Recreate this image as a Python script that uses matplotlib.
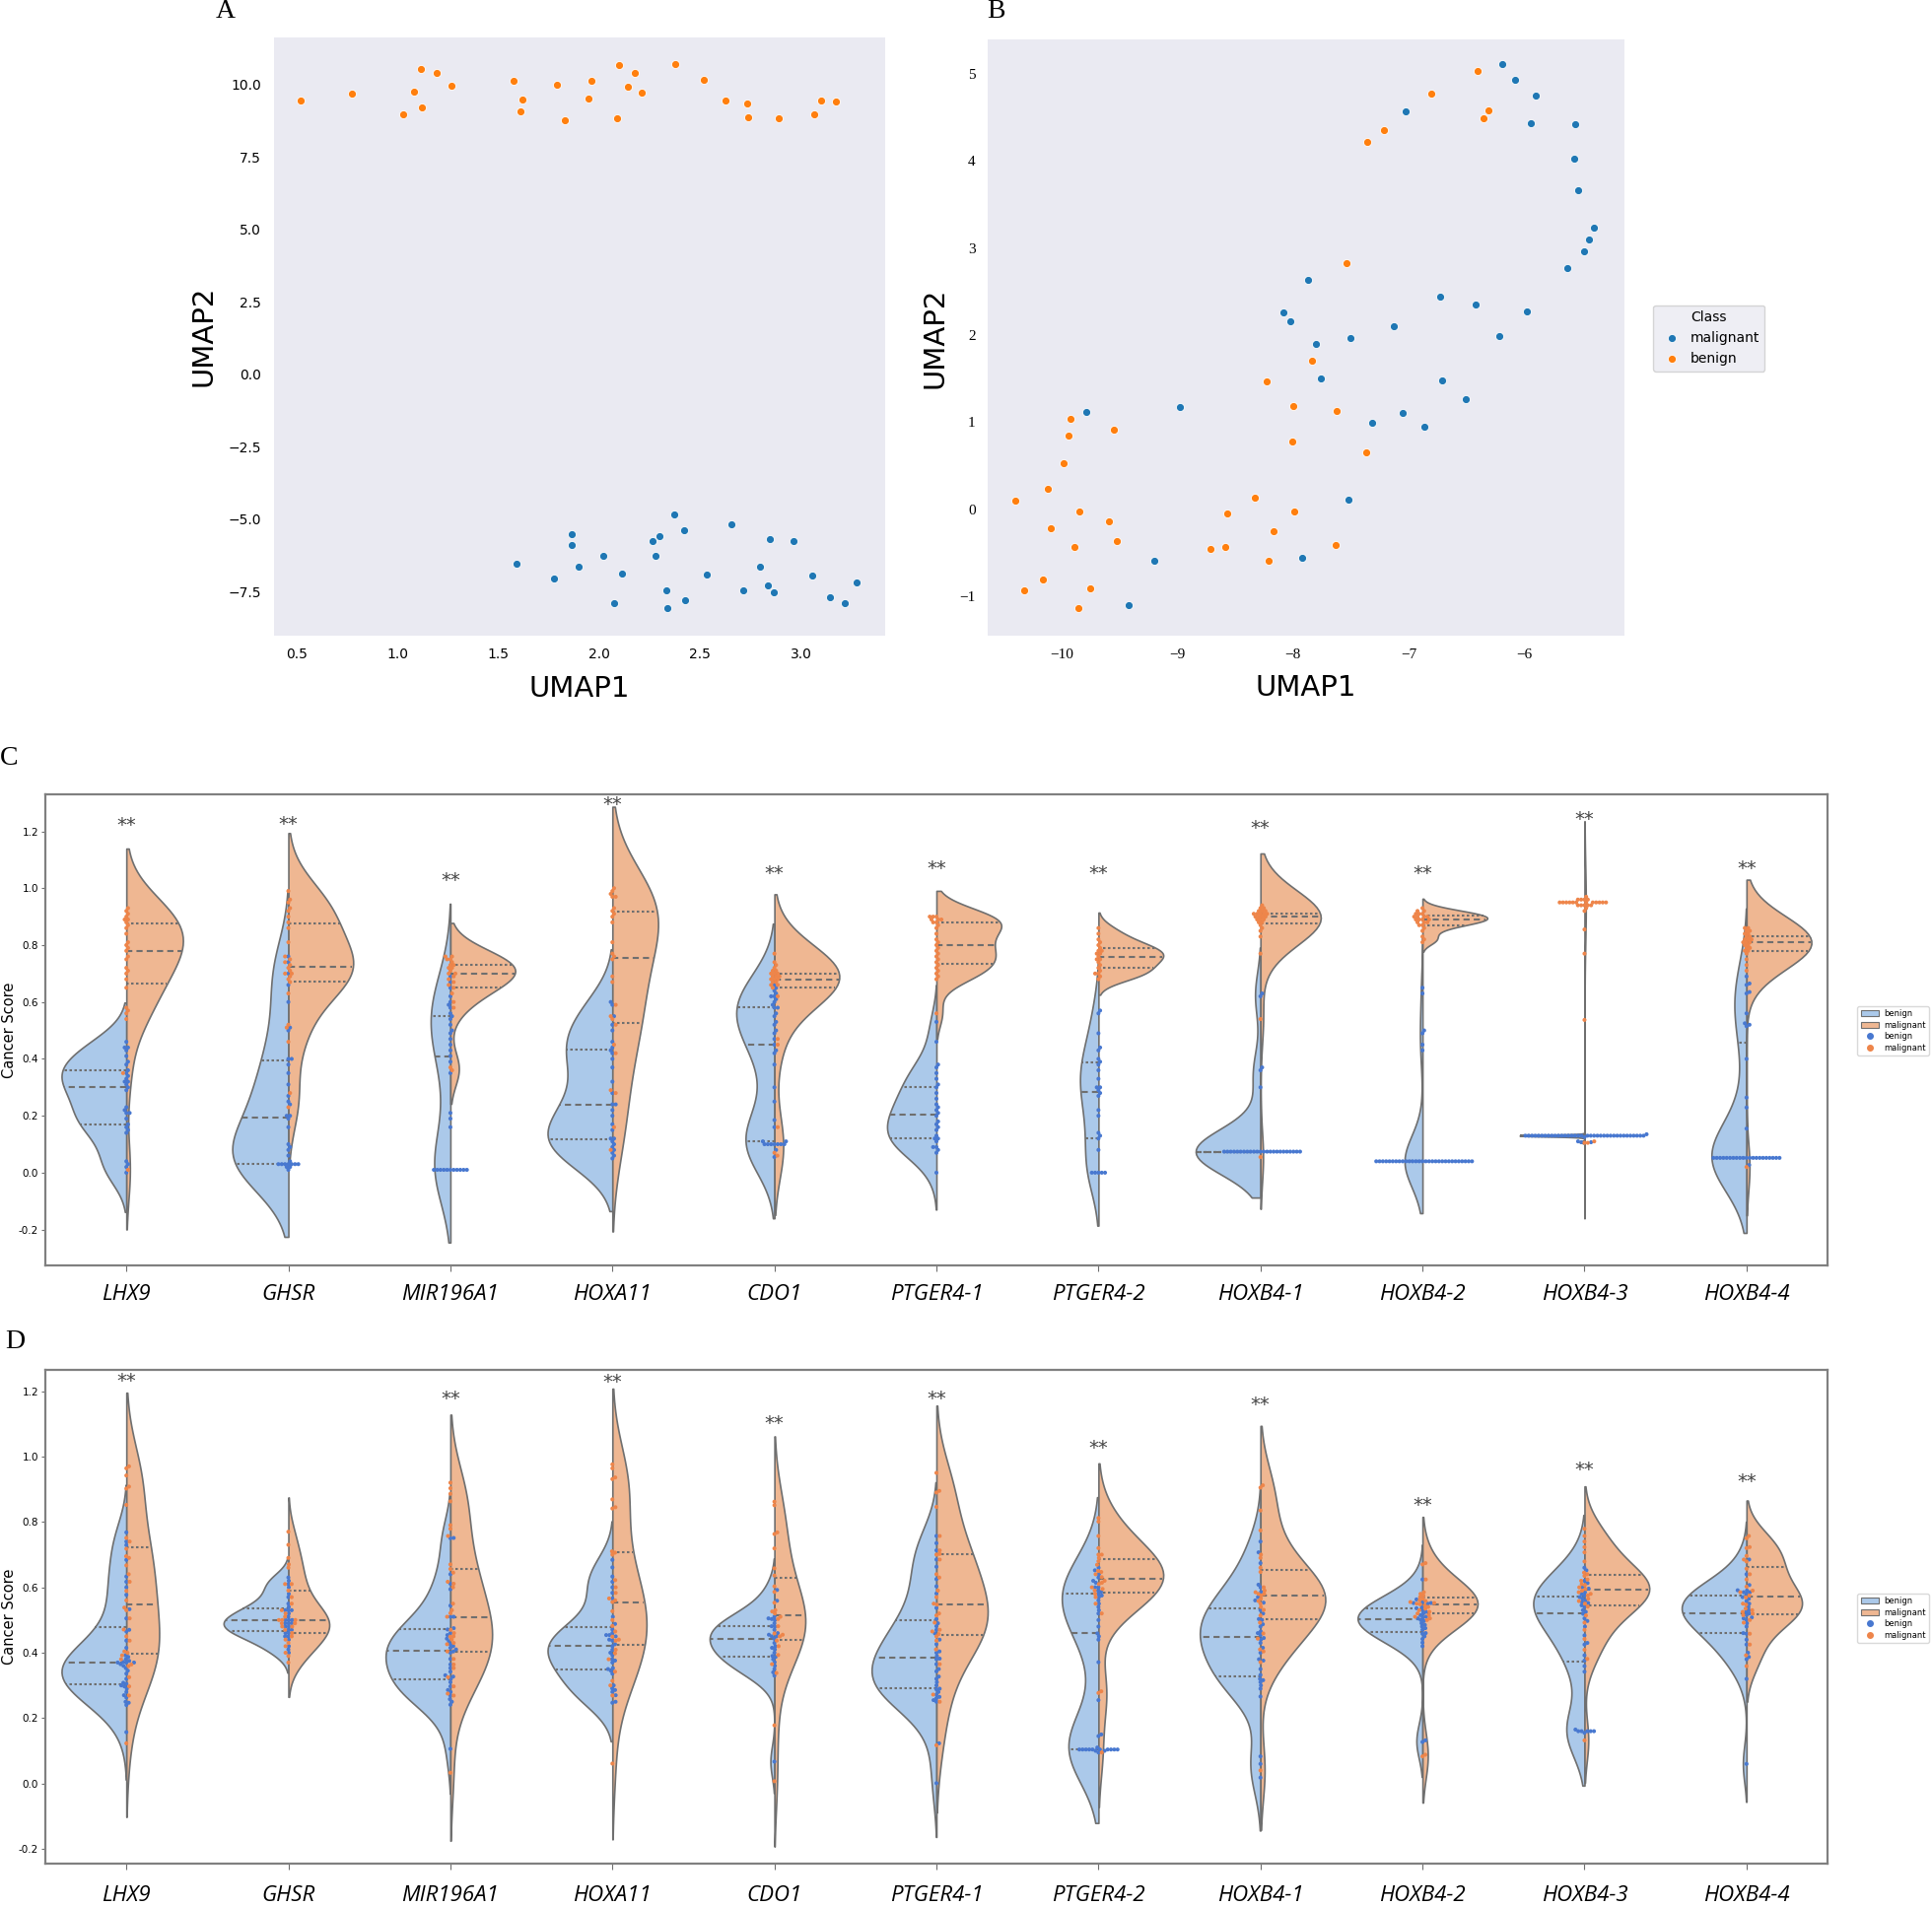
import colorsys
import numpy as np
import matplotlib
matplotlib.use("Agg")
import matplotlib.pyplot as plt
from matplotlib.patches import Patch
from matplotlib.lines import Line2D

# ---------------------------------------------------------------
# Panel A / B : UMAP embeddings
# ---------------------------------------------------------------
A_BEN_X = [0.518, 0.773, 1.030, 1.080, 1.115, 1.122, 1.196, 1.268, 1.574, 1.619, 1.608, 1.789, 1.829,
           1.948, 1.959, 2.089, 2.100, 2.140, 2.174, 2.212, 2.375, 2.516, 2.624, 2.734, 2.736, 2.890,
           3.065, 3.098, 3.172]
A_BEN_Y = [9.47, 9.69, 8.97, 9.75, 10.56, 9.23, 10.41, 9.97, 10.13, 9.50, 9.09, 10.00, 8.78,
           9.53, 10.14, 8.84, 10.69, 9.92, 10.41, 9.72, 10.72, 10.17, 9.47, 9.36, 8.89, 8.83,
           8.97, 9.47, 9.41]
A_MAL_X = [1.590, 1.776, 1.863, 1.863, 1.897, 2.020, 2.073, 2.114, 2.264, 2.279, 2.297, 2.331, 2.335,
           2.373, 2.420, 2.425, 2.534, 2.655, 2.716, 2.798, 2.834, 2.846, 2.866, 2.964, 3.058, 3.145,
           3.217, 3.275]
A_MAL_Y = [-6.53, -7.06, -5.53, -5.89, -6.66, -6.27, -7.92, -6.88, -5.75, -6.27, -5.59, -7.48, -8.09,
           -4.84, -5.39, -7.81, -6.92, -5.17, -7.45, -6.64, -7.31, -5.69, -7.53, -5.75, -6.94, -7.69,
           -7.91, -7.19]

B_BEN_X = [-10.407, -10.325, -10.167, -10.124, -10.096, -9.990, -9.947, -9.928, -9.895, -9.861, -9.847,
           -9.761, -9.593, -9.555, -9.526, -8.718, -8.584, -8.569, -8.335, -8.230, -8.211, -8.172,
           -8.010, -8.000, -7.986, -7.837, -7.632, -7.622, -7.536, -7.368, -7.359, -7.215, -6.799,
           -6.397, -6.354, -6.306]
B_BEN_Y = [0.101, -0.928, -0.803, 0.231, -0.216, 0.533, 0.845, 1.032, -0.429, -1.141, -0.029,
           -0.907, -0.143, 0.913, -0.361, -0.455, -0.439, -0.049, 0.127, 1.469, -0.590, -0.252,
           0.772, 1.188, -0.023, 1.703, -0.413, 1.131, 2.821, 0.647, 4.215, 4.350, 4.776,
           5.036, 4.485, 4.579]
B_MAL_X = [-9.794, -9.421, -9.201, -8.981, -8.086, -8.024, -7.919, -7.866, -7.799, -7.761, -7.517,
           -7.502, -7.316, -7.124, -7.048, -7.024, -6.861, -6.727, -6.708, -6.502, -6.416, -6.215,
           -6.187, -6.077, -5.971, -5.938, -5.900, -5.627, -5.565, -5.560, -5.531, -5.483, -5.440,
           -5.392]
B_MAL_Y = [1.115, -1.100, -0.590, 1.173, 2.265, 2.155, -0.559, 2.634, 1.901, 1.500, 0.107,
           1.968, 0.991, 2.103, 1.110, 4.568, 0.944, 2.442, 1.474, 1.261, 2.353, 1.994,
           5.109, 4.927, 2.270, 4.433, 4.756, 2.764, 4.028, 4.428, 3.669, 2.962, 3.102,
           3.237]

# ---------------------------------------------------------------
# Panel C / D : cancer scores per gene (benign / malignant)
# ---------------------------------------------------------------
GENES = ["LHX9", "GHSR", "MIR196A1", "HOXA11", "CDO1", "PTGER4-1", "PTGER4-2",
         "HOXB4-1", "HOXB4-2", "HOXB4-3", "HOXB4-4"]

C_LHX9_BEN = [0.00, 0.02, 0.03, 0.04, 0.14, 0.15, 0.16, 0.17, 0.19, 0.21, 0.21, 0.22, 0.23, 0.29, 0.30,
              0.31, 0.32, 0.32, 0.33, 0.34, 0.35, 0.36, 0.38, 0.39, 0.41, 0.43, 0.44, 0.44, 0.46]
C_LHX9_MAL = [0.01, 0.35, 0.54, 0.56, 0.57, 0.58, 0.65, 0.68, 0.70, 0.71, 0.72, 0.75, 0.76, 0.78, 0.79,
              0.80, 0.81, 0.84, 0.86, 0.87, 0.88, 0.89, 0.89, 0.90, 0.91, 0.92, 0.93]
C_GHSR_BEN = [0.01, 0.02, 0.02, 0.03, 0.03, 0.03, 0.03, 0.03, 0.03, 0.03, 0.04, 0.06, 0.08, 0.09, 0.10,
              0.16, 0.19, 0.20, 0.20, 0.24, 0.25, 0.27, 0.31, 0.35, 0.38, 0.40, 0.40, 0.50, 0.51, 0.60,
              0.66, 0.70, 0.74, 0.76]
C_GHSR_MAL = [0.23, 0.28, 0.46, 0.51, 0.52, 0.63, 0.67, 0.68, 0.69, 0.70, 0.70, 0.71, 0.72, 0.73, 0.74,
              0.75, 0.76, 0.81, 0.86, 0.88, 0.90, 0.92, 0.93, 0.95, 0.96, 0.99]
C_MIR_BEN = [0.01] * 11 + [0.16, 0.19, 0.21, 0.35, 0.39, 0.41, 0.43, 0.45, 0.47, 0.49, 0.50, 0.52, 0.54,
                           0.55, 0.56, 0.58, 0.59, 0.60, 0.62, 0.65, 0.67, 0.69]
C_MIR_MAL = [0.36, 0.37, 0.58, 0.60, 0.63, 0.65, 0.66, 0.67, 0.68, 0.69, 0.70, 0.70, 0.71, 0.72, 0.72,
             0.73, 0.73, 0.74, 0.75, 0.75, 0.76, 0.76]
C_HOXA11_BEN = [0.05, 0.06, 0.07, 0.08, 0.09, 0.10, 0.11, 0.12, 0.12, 0.15, 0.17, 0.20, 0.22, 0.24, 0.24,
                0.28, 0.32, 0.37, 0.40, 0.42, 0.43, 0.44, 0.46, 0.50, 0.52, 0.55, 0.59, 0.60]
C_HOXA11_MAL = [0.08, 0.16, 0.28, 0.29, 0.42, 0.45, 0.52, 0.54, 0.55, 0.59, 0.67, 0.69, 0.75, 0.76, 0.77,
                0.81, 0.88, 0.90, 0.91, 0.92, 0.93, 0.97, 0.97, 0.98, 0.99, 1.00]
C_CDO1_BEN = [0.055, 0.08, 0.10, 0.10, 0.10, 0.10, 0.10, 0.10, 0.10, 0.11, 0.11, 0.16, 0.185, 0.25, 0.30,
              0.38, 0.42, 0.43, 0.45, 0.47, 0.49, 0.50, 0.52, 0.53, 0.55, 0.56, 0.58, 0.58, 0.59, 0.60,
              0.61, 0.62, 0.62, 0.63, 0.64, 0.65, 0.66]
C_CDO1_MAL = [0.06, 0.07, 0.16, 0.45, 0.47, 0.62, 0.65, 0.66, 0.66, 0.67, 0.67, 0.68, 0.68, 0.68, 0.69,
              0.69, 0.69, 0.70, 0.70, 0.70, 0.71, 0.71, 0.72, 0.73, 0.74, 0.77]
C_PT1_BEN = [0.00, 0.07, 0.08, 0.09, 0.09, 0.11, 0.12, 0.12, 0.13, 0.15, 0.16, 0.17, 0.18, 0.20, 0.21,
             0.22, 0.23, 0.24, 0.26, 0.28, 0.30, 0.31, 0.33, 0.35, 0.37, 0.38, 0.46, 0.53]
C_PT1_MAL = [0.56, 0.68, 0.69, 0.70, 0.71, 0.72, 0.73, 0.74, 0.75, 0.76, 0.77, 0.78, 0.79, 0.80, 0.81,
             0.82, 0.84, 0.86, 0.87, 0.88, 0.88, 0.89, 0.89, 0.89, 0.90, 0.90, 0.90]
C_PT2_BEN = [0.0] * 5 + [0.08, 0.12, 0.13, 0.14, 0.20, 0.22, 0.27, 0.28, 0.29, 0.30, 0.30, 0.33, 0.36,
                         0.38, 0.39, 0.40, 0.43, 0.44, 0.49, 0.56, 0.57]
C_PT2_MAL = [0.68, 0.69, 0.70, 0.70, 0.71, 0.72, 0.73, 0.74, 0.75, 0.75, 0.76, 0.77, 0.77, 0.78, 0.78,
             0.79, 0.80, 0.81, 0.82, 0.84, 0.86]
C_B41_BEN = [0.074] * 24 + [0.30, 0.36, 0.37, 0.62, 0.63]
C_B41_MAL = [0.055, 0.54, 0.77, 0.83, 0.85, 0.86, 0.87, 0.88, 0.88, 0.89, 0.89, 0.89, 0.90, 0.90, 0.90,
             0.90, 0.91, 0.91, 0.91, 0.91, 0.91, 0.92, 0.92, 0.92, 0.93, 0.93, 0.94]
C_B42_BEN = [0.04] * 30 + [0.43, 0.45, 0.49, 0.50, 0.63, 0.65]
C_B42_MAL = [0.81, 0.82, 0.83, 0.85, 0.86, 0.87, 0.87, 0.88, 0.88, 0.88, 0.89, 0.89, 0.89, 0.89, 0.90,
             0.90, 0.90, 0.90, 0.91, 0.91, 0.91, 0.92, 0.92, 0.93]
C_B43_BEN = [0.107, 0.107, 0.11, 0.125] + [0.13] * 36 + [0.135]
C_B43_MAL = [0.105, 0.105, 0.11, 0.537, 0.77, 0.855, 0.92, 0.93, 0.94, 0.94, 0.94, 0.94, 0.94] + \
            [0.95] * 12 + [0.96, 0.96, 0.96, 0.96, 0.97]
C_B44_BEN = [0.027] + [0.052] * 21 + [0.155, 0.229, 0.264, 0.40, 0.515, 0.52, 0.525, 0.56, 0.63, 0.635,
                                      0.66, 0.665, 0.69]
C_B44_MAL = [0.02, 0.71, 0.73, 0.75, 0.77, 0.78, 0.78, 0.79, 0.79, 0.80, 0.80, 0.81, 0.81, 0.81, 0.82,
             0.82, 0.82, 0.83, 0.83, 0.84, 0.84, 0.85, 0.85, 0.86, 0.86]

D_LHX9_BEN = [0.157, 0.24, 0.247, 0.25, 0.263, 0.27, 0.28, 0.29, 0.297, 0.30, 0.305, 0.308, 0.32, 0.336,
              0.345, 0.353, 0.36, 0.365, 0.37, 0.37, 0.37, 0.372, 0.375, 0.38, 0.387, 0.392, 0.415, 0.437,
              0.465, 0.47, 0.505, 0.533, 0.577, 0.60, 0.617, 0.633, 0.684, 0.729, 0.74, 0.768]
D_LHX9_MAL = [0.123, 0.269, 0.297, 0.325, 0.359, 0.364, 0.38, 0.392, 0.40, 0.404, 0.437, 0.45, 0.471,
              0.505, 0.53, 0.538, 0.56, 0.589, 0.617, 0.64, 0.667, 0.69, 0.695, 0.718, 0.74, 0.751, 0.852,
              0.902, 0.908, 0.942, 0.964, 0.97]
D_GHSR_BEN = [0.40, 0.41, 0.42, 0.44, 0.45, 0.45, 0.46, 0.46, 0.47, 0.47, 0.48, 0.48, 0.49, 0.49, 0.49,
              0.50, 0.50, 0.50, 0.51, 0.52, 0.53, 0.53, 0.53, 0.54, 0.55, 0.57, 0.58, 0.60, 0.61, 0.62,
              0.63]
D_GHSR_MAL = [0.37, 0.39, 0.40, 0.42, 0.43, 0.44, 0.45, 0.46, 0.47, 0.48, 0.48, 0.49, 0.49, 0.50, 0.50,
              0.50, 0.51, 0.52, 0.53, 0.55, 0.57, 0.59, 0.61, 0.61, 0.66, 0.67, 0.69, 0.73, 0.77]
D_MIR_BEN = [0.106, 0.241, 0.25, 0.258, 0.269, 0.28, 0.286, 0.297, 0.31, 0.32, 0.327, 0.331, 0.342, 0.353,
             0.364, 0.381, 0.40, 0.404, 0.41, 0.415, 0.42, 0.426, 0.435, 0.443, 0.454, 0.46, 0.471, 0.475,
             0.51, 0.51, 0.544, 0.594, 0.611, 0.64, 0.75, 0.751]
D_MIR_MAL = [0.033, 0.269, 0.275, 0.297, 0.325, 0.353, 0.364, 0.381, 0.404, 0.426, 0.43, 0.44, 0.449, 0.45,
             0.46, 0.47, 0.51, 0.521, 0.53, 0.55, 0.60, 0.611, 0.617, 0.645, 0.656, 0.67, 0.757, 0.779,
             0.79, 0.863, 0.886, 0.903, 0.92]
D_HOXA11_BEN = [0.247, 0.25, 0.27, 0.28, 0.286, 0.291, 0.30, 0.336, 0.345, 0.35, 0.353, 0.37, 0.376, 0.38,
                0.392, 0.40, 0.409, 0.42, 0.426, 0.437, 0.44, 0.45, 0.454, 0.454, 0.46, 0.471, 0.488, 0.51,
                0.566, 0.583, 0.60, 0.617, 0.633, 0.661, 0.684]
D_HOXA11_MAL = [0.061, 0.269, 0.30, 0.314, 0.342, 0.38, 0.398, 0.409, 0.437, 0.44, 0.449, 0.465, 0.482,
                0.50, 0.527, 0.555, 0.56, 0.566, 0.583, 0.60, 0.622, 0.70, 0.706, 0.71, 0.841, 0.845,
                0.869, 0.931, 0.936, 0.964, 0.976]
D_CDO1_BEN = [0.067, 0.33, 0.34, 0.35, 0.36, 0.371, 0.38, 0.387, 0.39, 0.40, 0.41, 0.415, 0.42, 0.43,
              0.443, 0.45, 0.45, 0.455, 0.46, 0.47, 0.48, 0.481, 0.49, 0.50, 0.503, 0.505, 0.51, 0.559,
              0.592]
D_CDO1_MAL = [0.007, 0.178, 0.338, 0.365, 0.393, 0.42, 0.437, 0.45, 0.455, 0.459, 0.481, 0.503, 0.51,
              0.52, 0.526, 0.53, 0.553, 0.586, 0.603, 0.636, 0.658, 0.719, 0.763, 0.768, 0.851, 0.862]
D_PT1_BEN = [0.001, 0.123, 0.25, 0.255, 0.261, 0.265, 0.272, 0.28, 0.288, 0.29, 0.30, 0.31, 0.32, 0.327,
             0.343, 0.35, 0.365, 0.38, 0.382, 0.39, 0.40, 0.404, 0.426, 0.44, 0.459, 0.47, 0.481, 0.49,
             0.503, 0.537, 0.581, 0.603, 0.625, 0.663, 0.685, 0.713, 0.735, 0.757]
D_PT1_MAL = [0.117, 0.25, 0.272, 0.365, 0.41, 0.437, 0.45, 0.457, 0.465, 0.47, 0.492, 0.514, 0.52, 0.547,
             0.55, 0.57, 0.59, 0.63, 0.64, 0.685, 0.70, 0.702, 0.713, 0.757, 0.846, 0.89, 0.895, 0.95]
D_PT2_BEN = [0.095, 0.10, 0.10] + [0.104] * 10 + [0.11, 0.145, 0.15, 0.255, 0.371, 0.44, 0.45, 0.459, 0.48,
                                                  0.50, 0.52, 0.53, 0.54, 0.55, 0.56, 0.57, 0.575, 0.58,
                                                  0.586, 0.59, 0.60, 0.60, 0.614, 0.62, 0.63, 0.64, 0.652,
                                                  0.66]
D_PT2_MAL = [0.095, 0.277, 0.282, 0.52, 0.55, 0.57, 0.58, 0.59, 0.595, 0.60, 0.61, 0.614, 0.62, 0.631,
             0.64, 0.647, 0.65, 0.669, 0.68, 0.69, 0.70, 0.70, 0.72, 0.757, 0.801, 0.812]
D_B41_BEN = [0.018, 0.06, 0.083, 0.266, 0.29, 0.30, 0.31, 0.316, 0.32, 0.332, 0.35, 0.376, 0.38, 0.40,
             0.415, 0.43, 0.44, 0.445, 0.454, 0.46, 0.465, 0.48, 0.487, 0.50, 0.503, 0.52, 0.53, 0.553,
             0.56, 0.57, 0.586, 0.60, 0.608, 0.674, 0.707, 0.74]
D_B41_MAL = [0.04, 0.371, 0.404, 0.41, 0.443, 0.459, 0.492, 0.514, 0.531, 0.54, 0.55, 0.558, 0.565, 0.575,
             0.58, 0.58, 0.585, 0.59, 0.60, 0.647, 0.66, 0.69, 0.70, 0.774, 0.835, 0.905, 0.912]
D_B42_BEN = [0.127, 0.132, 0.42, 0.431, 0.442, 0.45, 0.458, 0.46, 0.47, 0.475, 0.48, 0.485, 0.49, 0.497,
             0.50, 0.505, 0.508, 0.51, 0.515, 0.52, 0.525, 0.53, 0.536, 0.54, 0.55, 0.552, 0.552, 0.555,
             0.563, 0.624]
D_B42_MAL = [0.083, 0.088, 0.50, 0.505, 0.51, 0.515, 0.52, 0.525, 0.53, 0.535, 0.54, 0.545, 0.548, 0.55,
             0.552, 0.555, 0.558, 0.56, 0.565, 0.57, 0.575, 0.58, 0.585, 0.624, 0.67, 0.674]
D_B43_BEN = [0.155, 0.16, 0.16, 0.16, 0.16, 0.16, 0.165, 0.342, 0.359, 0.376, 0.392, 0.425, 0.43, 0.453,
             0.48, 0.497, 0.505, 0.519, 0.525, 0.53, 0.54, 0.545, 0.552, 0.555, 0.56, 0.565, 0.57, 0.575,
             0.58, 0.585, 0.596, 0.60, 0.613, 0.62, 0.652, 0.66]
D_B43_MAL = [0.132, 0.381, 0.409, 0.442, 0.47, 0.492, 0.514, 0.541, 0.55, 0.558, 0.565, 0.575, 0.58, 0.585,
             0.59, 0.595, 0.60, 0.607, 0.61, 0.62, 0.624, 0.635, 0.64, 0.645, 0.679, 0.707, 0.723, 0.74,
             0.757, 0.779]
D_B44_BEN = [0.06, 0.32, 0.38, 0.387, 0.40, 0.425, 0.44, 0.458, 0.46, 0.48, 0.49, 0.50, 0.505, 0.508,
             0.515, 0.52, 0.525, 0.53, 0.54, 0.55, 0.558, 0.565, 0.57, 0.58, 0.585, 0.585, 0.59, 0.591,
             0.607, 0.64, 0.685]
D_B44_MAL = [0.359, 0.392, 0.425, 0.458, 0.492, 0.50, 0.515, 0.52, 0.525, 0.53, 0.535, 0.547, 0.55, 0.569,
             0.575, 0.585, 0.59, 0.602, 0.624, 0.64, 0.657, 0.679, 0.685, 0.696, 0.72, 0.723, 0.75, 0.757]

C_BEN = [C_LHX9_BEN, C_GHSR_BEN, C_MIR_BEN, C_HOXA11_BEN, C_CDO1_BEN, C_PT1_BEN, C_PT2_BEN,
         C_B41_BEN, C_B42_BEN, C_B43_BEN, C_B44_BEN]
C_MAL = [C_LHX9_MAL, C_GHSR_MAL, C_MIR_MAL, C_HOXA11_MAL, C_CDO1_MAL, C_PT1_MAL, C_PT2_MAL,
         C_B41_MAL, C_B42_MAL, C_B43_MAL, C_B44_MAL]
D_BEN = [D_LHX9_BEN, D_GHSR_BEN, D_MIR_BEN, D_HOXA11_BEN, D_CDO1_BEN, D_PT1_BEN, D_PT2_BEN,
         D_B41_BEN, D_B42_BEN, D_B43_BEN, D_B44_BEN]
D_MAL = [D_LHX9_MAL, D_GHSR_MAL, D_MIR_MAL, D_HOXA11_MAL, D_CDO1_MAL, D_PT1_MAL, D_PT2_MAL,
         D_B41_MAL, D_B42_MAL, D_B43_MAL, D_B44_MAL]

# significance marks (None = no mark)
C_STAR_Y = [1.22, 1.225, 1.027, 1.295, 1.05, 1.07, 1.05, 1.21, 1.05, 1.24, 1.07]
D_STAR_Y = [1.23, None, 1.177, 1.226, 1.10, 1.177, 1.026, 1.158, 0.852, 0.96, 0.924]

# Colours
TAB_BLUE, TAB_ORANGE = "#1f77b4", "#ff7f0e"
DOT_BEN, DOT_MAL = "#4878d0", "#ee854a"
GRAY = "#6f6f6f"


def desaturate(hex_color, prop=0.75):
    r, g, b = matplotlib.colors.to_rgb(hex_color)
    h, l, s = colorsys.rgb_to_hls(r, g, b)
    return colorsys.hls_to_rgb(h, l, s * prop)


FILL_BEN = desaturate("#a1c9f4")
FILL_MAL = desaturate("#ffb482")


def kde(vals, n_grid=100, cut=2):
    """Gaussian KDE with Scott's bandwidth, support cut at 2 bw."""
    v = np.asarray(vals, float)
    bw = v.std(ddof=1) * len(v) ** (-0.2)
    grid = np.linspace(v.min() - cut * bw, v.max() + cut * bw, n_grid)
    z = (grid[:, None] - v[None, :]) / bw
    dens = np.exp(-0.5 * z ** 2).sum(axis=1) / (len(v) * bw * np.sqrt(2 * np.pi))
    return grid, dens


def swarm_offsets(vals, px_y, d):
    """Simple beeswarm: returns horizontal offsets (pixels) for the values."""
    y_px = np.asarray(vals, float) * px_y
    order = np.argsort(y_px, kind="stable")
    placed = []
    offs = np.zeros(len(y_px))
    for k in order:
        y = y_px[k]
        near = [(px, py) for px, py in placed if abs(py - y) < d]
        cands = [0.0]
        for px, py in near:
            dx = np.sqrt(d * d - (py - y) ** 2)
            cands += [px + dx, px - dx]
        cands.sort(key=abs)
        chosen = cands[-1]
        for c in cands:
            if all((c - px) ** 2 + (y - py) ** 2 >= d * d - 1e-6 for px, py in near):
                chosen = c
                break
        placed.append((chosen, y))
        offs[k] = chosen
    return offs


def violin_panel(ax, ben_list, mal_list, stars, ylim, xlabel_pad):
    ax.set_xlim(-0.5, len(GENES) - 0.5)
    ax.set_ylim(*ylim)
    bbox = ax.get_window_extent()
    px_x = bbox.width / len(GENES)
    px_y = bbox.height / (ylim[1] - ylim[0])

    for i, (ben, mal) in enumerate(zip(ben_list, mal_list)):
        gb, db = kde(ben)
        gm, dm = kde(mal)
        peak = max(db.max(), dm.max())
        for grid, dens, vals, side, col in ((gb, db, ben, -1, FILL_BEN), (gm, dm, mal, 1, FILL_MAL)):
            w = dens / peak * 0.4
            ax.fill_betweenx(grid, i, i + side * w, facecolor=col, edgecolor=GRAY, linewidth=1.2, zorder=1)
            q25, q50, q75 = np.percentile(vals, [25, 50, 75])
            for q, dash in ((q25, (1.2, 1.2)), (q50, (3.0, 2.0)), (q75, (1.2, 1.2))):
                xe = i + side * 0.4 * np.interp(q, grid, dens) / peak * 0.99
                ax.plot([i, xe], [q, q], color=GRAY, linewidth=1.5, dashes=dash, zorder=2)

        # swarm of both groups together
        vals = list(ben) + list(mal)
        cols = [DOT_BEN] * len(ben) + [DOT_MAL] * len(mal)
        offs = swarm_offsets(vals, px_y, 3.35)
        ax.scatter(i + offs / px_x, vals, c=cols, s=8.5, linewidths=0, zorder=3)

        if stars[i] is not None:
            ax.text(i, stars[i], "**", ha="center", va="center", fontsize=14, color="#444444")

    ax.set_xticks(range(len(GENES)))
    ax.set_xticklabels(GENES, fontsize=16, style="italic", family=["Open Sans", "DejaVu Sans"])
    ax.set_yticks(np.arange(-0.2, 1.21, 0.2))
    ax.set_yticklabels([f"{t:.1f}" for t in np.arange(-0.2, 1.21, 0.2)], fontsize=7.5)
    ax.tick_params(axis="x", length=4, color=GRAY, pad=xlabel_pad)
    ax.tick_params(axis="y", length=3, color=GRAY, pad=2)
    for sp in ax.spines.values():
        sp.set_color("#808080")
        sp.set_linewidth(1.6)
    # the label's anchor is its right edge; keep it inside the figure
    ax.set_ylabel("Cancer Score", fontsize=10.5)
    ax.yaxis.set_label_coords((17 - 46) / 1808, 0.5)


def umap_panel(ax, xlim, ylim, serif_ticks=False):
    ax.set_facecolor("#eaeaf2")
    for sp in ax.spines.values():
        sp.set_visible(False)
    ax.set_xlim(*xlim)
    ax.set_ylim(*ylim)
    kw = dict(length=0, labelsize=10, pad=9)
    if serif_ticks:
        kw["labelfontfamily"] = "Liberation Serif"
        kw["labelsize"] = 11
    ax.tick_params(**kw)
    ax.set_xlabel("UMAP1", fontsize=21, labelpad=10)
    ax.set_ylabel("UMAP2", fontsize=21, labelpad=8)


W, H = 1960, 1934
fig = plt.figure(figsize=(W / 100, H / 100), dpi=100)

# ---- A ----
axA = fig.add_axes([277.5 / W, 1 - 645 / H, 620 / W, 607.5 / H])
axA.scatter(A_BEN_X, A_BEN_Y, s=34, color=TAB_ORANGE, edgecolor="white", linewidth=0.6)
axA.scatter(A_MAL_X, A_MAL_Y, s=34, color=TAB_BLUE, edgecolor="white", linewidth=0.6)
axA.set_xticks([0.5, 1.0, 1.5, 2.0, 2.5, 3.0])
axA.set_yticks([-7.5, -5.0, -2.5, 0.0, 2.5, 5.0, 7.5, 10.0])
umap_panel(axA, (0.385, 3.415), (-9.03, 11.65))

# ---- B ----
axB = fig.add_axes([1002 / W, 1 - 645 / H, 646 / W, 605 / H])
axB.scatter(B_MAL_X, B_MAL_Y, s=34, color=TAB_BLUE, edgecolor="white", linewidth=0.6, label="malignant")
axB.scatter(B_BEN_X, B_BEN_Y, s=34, color=TAB_ORANGE, edgecolor="white", linewidth=0.6, label="benign")
axB.set_xticks([-10, -9, -8, -7, -6])
axB.set_yticks([-1, 0, 1, 2, 3, 4, 5])
umap_panel(axB, (-10.645, -5.129), (-1.453, 5.396), serif_ticks=True)
legB = axB.legend(title="Class", loc="center left", bbox_to_anchor=(1670 / W, 1 - 343 / H),
                  bbox_transform=fig.transFigure, fontsize=10, title_fontsize=10,
                  facecolor="#eaeaf2", edgecolor="#cccccc", handletextpad=0.3, borderpad=0.4)

# ---- C ----
axC = fig.add_axes([46 / W, 1 - 1284 / H, 1808 / W, 478 / H])
violin_panel(axC, C_BEN, C_MAL, C_STAR_Y, (-0.326, 1.33), 10)

# ---- D ----
axD = fig.add_axes([46 / W, 1 - 1891 / H, 1808 / W, 501 / H])
violin_panel(axD, D_BEN, D_MAL, D_STAR_Y, (-0.245, 1.265), 12)

# legends for C and D
handles = [Patch(facecolor=FILL_BEN, edgecolor=GRAY, linewidth=0.8, label="benign"),
           Patch(facecolor=FILL_MAL, edgecolor=GRAY, linewidth=0.8, label="malignant"),
           Line2D([], [], marker="o", linestyle="", color=DOT_BEN, markersize=4, label="benign"),
           Line2D([], [], marker="o", linestyle="", color=DOT_MAL, markersize=4, label="malignant")]
for yc in (1046, 1642):
    fig.legend(handles=handles, loc="center left", bbox_to_anchor=(1880 / W, 1 - yc / H),
               fontsize=6, frameon=True, edgecolor="#d0d0d0", handlelength=2.2, handletextpad=0.6,
               borderpad=0.4, labelspacing=0.3)

# panel letters
for txt, x, y in (("A", 229, 12), ("B", 1010, 12), ("C", 9, 770), ("D", 15, 1362)):
    fig.text(x / W, 1 - y / H, txt, fontsize=20, family="Liberation Serif", ha="center", va="center")

fig.savefig("out.png", dpi=100)
